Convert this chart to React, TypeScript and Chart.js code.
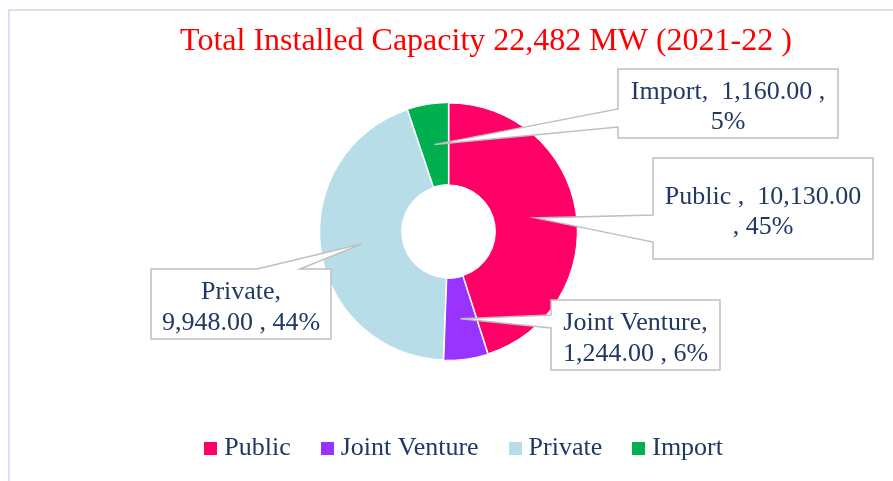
import React, { useEffect, useRef } from 'react';
import { Chart, registerables } from 'chart.js';

Chart.register(...registerables);

// ---- data ----
const CATEGORIES = ['Public', 'Joint Venture', 'Private', 'Import'];
const VALUES = [10130, 1244, 9948, 1160];
const COLORS = ['#FF0066', '#9933FF', '#B7DEE8', '#00B050'];
const PERIOD = '2021-22 ';

const TOTAL = VALUES.reduce((a, b) => a + b, 0);
const fmt = (v: number) =>
  v.toLocaleString('en-US', { minimumFractionDigits: 2, maximumFractionDigits: 2 });
const pct = (v: number) => Math.round((v / TOTAL) * 100) + '%';

const TITLE = `Total Installed Capacity ${TOTAL.toLocaleString('en-US')} MW (${PERIOD})`;

// callout text lines (wrapped as in the original)
const CALLOUT_TEXT: string[][] = [
  [`${CATEGORIES[0]} ,  ${fmt(VALUES[0])}`, `, ${pct(VALUES[0])}`],
  [`${CATEGORIES[1]},`, `${fmt(VALUES[1])} , ${pct(VALUES[1])}`],
  [`${CATEGORIES[2]},`, `${fmt(VALUES[2])} , ${pct(VALUES[2])}`],
  [`${CATEGORIES[3]},  ${fmt(VALUES[3])} ,`, `${pct(VALUES[3])}`],
];

// ---- layout of callout boxes (canvas px) ----
type Callout = { box: number[]; side: 'left' | 'top'; base: number[] };
const CALLOUT_LAYOUT: Callout[] = [
  { box: [643, 147, 863, 248], side: 'left', base: [204, 231] },
  { box: [541, 289, 710, 359], side: 'left', base: [304, 317] },
  { box: [141, 258, 321, 328], side: 'top', base: [247, 290] },
  { box: [608, 58, 828, 127], side: 'left', base: [98, 116] },
];

const TEXT_COLOR = '#1F3864';
const FONT_FAMILY = '"Liberation Serif", "Times New Roman", serif';
const SWATCH = 13;

const calloutPlugin = {
  id: 'calloutPlugin',
  afterDatasetsDraw(chart: any) {
    const ctx: CanvasRenderingContext2D = chart.ctx;
    const meta = chart.getDatasetMeta(0);
    ctx.save();
    meta.data.forEach((arc: any, i: number) => {
      const lay = CALLOUT_LAYOUT[i];
      if (!lay) return;
      const tip = arc.tooltipPosition(false);
      const [x1, y1, x2, y2] = lay.box;
      const [a, b] = lay.base;
      ctx.beginPath();
      if (lay.side === 'left') {
        ctx.moveTo(x1, y1);
        ctx.lineTo(x2, y1);
        ctx.lineTo(x2, y2);
        ctx.lineTo(x1, y2);
        ctx.lineTo(x1, b);
        ctx.lineTo(tip.x, tip.y);
        ctx.lineTo(x1, a);
        ctx.closePath();
      } else {
        ctx.moveTo(x1, y1);
        ctx.lineTo(a, y1);
        ctx.lineTo(tip.x, tip.y);
        ctx.lineTo(b, y1);
        ctx.lineTo(x2, y1);
        ctx.lineTo(x2, y2);
        ctx.lineTo(x1, y2);
        ctx.closePath();
      }
      ctx.fillStyle = '#FFFFFF';
      ctx.fill();
      ctx.lineWidth = 1.5;
      ctx.strokeStyle = '#BFBFBF';
      ctx.lineJoin = 'miter';
      ctx.stroke();

      const lines = CALLOUT_TEXT[i];
      const cx = (x1 + x2) / 2;
      const cy = (y1 + y2) / 2;
      ctx.fillStyle = TEXT_COLOR;
      ctx.font = `26px ${FONT_FAMILY}`;
      ctx.textAlign = 'center';
      ctx.textBaseline = 'alphabetic';
      lines.forEach((ln, k) => {
        ctx.fillText(ln, cx, cy - 5 + k * 30.5);
      });
    });
    ctx.restore();
  },
  afterDraw(chart: any) {
    const ctx: CanvasRenderingContext2D = chart.ctx;
    ctx.save();
    ctx.fillStyle = '#FF0000';
    ctx.font = `32px ${FONT_FAMILY}`;
    ctx.textAlign = 'center';
    ctx.textBaseline = 'alphabetic';
    ctx.fillText(TITLE, 476, 39);
    ctx.restore();
  },
};

function makeSwatch(color: string): HTMLCanvasElement {
  const c = document.createElement('canvas');
  c.width = SWATCH;
  c.height = SWATCH;
  const g = c.getContext('2d');
  if (g) {
    g.fillStyle = color;
    g.fillRect(0, 0, SWATCH, SWATCH);
  }
  return c;
}

export default function App() {
  const ref = useRef<HTMLCanvasElement | null>(null);

  useEffect(() => {
    if (!ref.current) return;
    const swatches = COLORS.map(makeSwatch);
    const chart = new Chart(ref.current, {
      type: 'doughnut',
      data: {
        labels: CATEGORIES,
        datasets: [
          {
            data: VALUES,
            backgroundColor: COLORS,
            borderColor: '#FFFFFF',
            borderWidth: 1,
            offset: 2,
            hoverOffset: 0,
          },
        ],
      },
      options: {
        responsive: false,
        animation: false,
        events: [],
        cutout: '36%',
        layout: { padding: { top: 91, left: 128, right: 151, bottom: 19.5 } },
        plugins: {
          tooltip: { enabled: false },
          title: { display: false },
          legend: {
            display: true,
            position: 'bottom',
            align: 'end',
            title: {
              display: true,
              text: '',
              padding: { top: 26.5, bottom: 0 },
              font: { size: 12, lineHeight: 1 },
            },
            labels: {
              usePointStyle: true,
              boxWidth: 1,
              boxHeight: 13,
              padding: 36,
              color: TEXT_COLOR,
              font: { family: FONT_FAMILY, size: 26 },
              generateLabels: () =>
                CATEGORIES.map((text, i) => ({
                  text,
                  fillStyle: COLORS[i],
                  strokeStyle: COLORS[i],
                  lineWidth: 0,
                  pointStyle: swatches[i],
                  fontColor: TEXT_COLOR,
                  hidden: false,
                  index: i,
                })),
            },
          },
        },
      },
      plugins: [calloutPlugin],
    });
    return () => chart.destroy();
  }, []);

  return (
    <div
      style={{
        position: 'fixed',
        left: 8,
        top: 9,
        width: 1000,
        height: 600,
        borderLeft: '2px solid #D6E1F1',
        borderTop: '2px solid #D6E1F1',
        background: '#FFFFFF',
      }}
    >
      <canvas ref={ref} width={900} height={480} style={{ display: 'block', width: 900, height: 480 }} />
    </div>
  );
}
